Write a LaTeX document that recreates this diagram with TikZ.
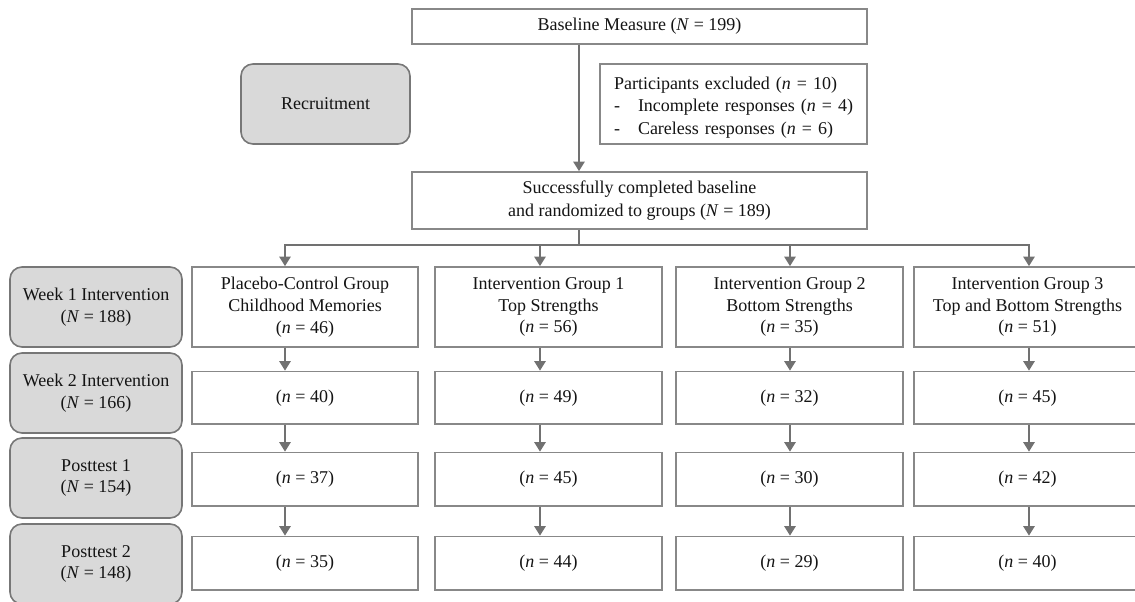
\documentclass[tikz,border=0pt]{standalone}
\usepackage{fontspec}
\setmainfont{Liberation Serif}
\usetikzlibrary{arrows.meta}
\definecolor{linegray}{HTML}{717171}
\definecolor{boxline}{HTML}{888888}
\definecolor{phasefill}{HTML}{D9D9D9}
\definecolor{phaseline}{HTML}{777777}
\definecolor{txt}{HTML}{141414}
\begin{document}
\begin{tikzpicture}[x=1pt,y=-1pt,
  every node/.style={font=\fontsize{18}{21.7}\selectfont, text=txt, inner sep=0pt},
  box/.style={draw=boxline, line width=1.6pt, fill=white, align=center},
  colbox/.style={box, minimum width=227pt},
  phase/.style={draw=phaseline, line width=1.6pt, fill=phasefill, rounded corners=12pt, align=center, minimum width=172pt, minimum height=80pt},
  conn/.style={draw=linegray, line width=2.6pt},
  arr/.style={conn, -{Triangle[width=11pt,length=9.5pt]}},
]
\useasboundingbox (0,0) rectangle (1135,602);

% top part
\node[box, minimum width=455pt, minimum height=35pt] (base) at (639.5,26.5) {Baseline Measure (\textit{N} = 199)};
\node[phase, minimum width=169pt] (recr) at (325.5,104) {Recruitment};
\node[box, minimum width=267pt, minimum height=80pt, text width=255pt, align=left,
      font=\fontsize{18}{22.5}\selectfont] (excl) at (733.5,104)
  {\rule{0pt}{19pt}\hspace*{8pt}Participants excluded (\textit{n} = 10)\\
   \hspace*{8pt}\makebox[24pt][l]{-}Incomplete responses (\textit{n} = 4)\\
   \hspace*{8pt}\makebox[24pt][l]{-}Careless responses (\textit{n} = 6)};
\node[box, minimum width=455pt, minimum height=57pt, font=\fontsize{18}{22.5}\selectfont] (succ) at (639.5,200.5)
  {Successfully completed baseline\\and randomized to groups (\textit{N} = 189)};

% phase boxes
\node[phase] (w1) at (96,307) {Week 1 Intervention\\(\textit{N} = 188)};
\node[phase] (w2) at (96,393) {Week 2 Intervention\\(\textit{N} = 166)};
\node[phase] (pt1) at (96,478) {Posttest 1\\(\textit{N} = 154)};
\node[phase] (pt2) at (96,564) {Posttest 2\\(\textit{N} = 148)};

% column 1
\node[colbox, minimum width=226pt, minimum height=80pt] (g11) at (305,307) {Placebo-Control Group\\Childhood Memories\\(\textit{n} = 46)};
\node[colbox, minimum width=226pt, minimum height=52.5pt] (g12) at (305,397.75) {(\textit{n} = 40)};
\node[colbox, minimum width=226pt, minimum height=53.5pt] (g13) at (305,479.25) {(\textit{n} = 37)};
\node[colbox, minimum width=226pt, minimum height=53.5pt] (g14) at (305,563.25) {(\textit{n} = 35)};
% column 2
\node[colbox, minimum height=80pt] (g21) at (548.5,307) {Intervention Group 1\\Top Strengths\\(\textit{n} = 56)};
\node[colbox, minimum height=52.5pt] (g22) at (548.5,397.75) {(\textit{n} = 49)};
\node[colbox, minimum height=53.5pt] (g23) at (548.5,479.25) {(\textit{n} = 45)};
\node[colbox, minimum height=53.5pt] (g24) at (548.5,563.25) {(\textit{n} = 44)};
% column 3
\node[colbox, minimum height=80pt] (g31) at (789.5,307) {Intervention Group 2\\Bottom Strengths\\(\textit{n} = 35)};
\node[colbox, minimum height=52.5pt] (g32) at (789.5,397.75) {(\textit{n} = 32)};
\node[colbox, minimum height=53.5pt] (g33) at (789.5,479.25) {(\textit{n} = 30)};
\node[colbox, minimum height=53.5pt] (g34) at (789.5,563.25) {(\textit{n} = 29)};
% column 4
\node[colbox, minimum height=80pt] (g41) at (1027.5,307) {Intervention Group 3\\Top and Bottom Strengths\\(\textit{n} = 51)};
\node[colbox, minimum height=52.5pt] (g42) at (1027.5,397.75) {(\textit{n} = 45)};
\node[colbox, minimum height=53.5pt] (g43) at (1027.5,479.25) {(\textit{n} = 42)};
\node[colbox, minimum height=53.5pt] (g44) at (1027.5,563.25) {(\textit{n} = 40)};

% connector positions
\coordinate (spine) at (579,0);
\coordinate (split) at (579,245);
\coordinate (a1) at (285,245);
\coordinate (a2) at (540,245);
\coordinate (a3) at (790,245);
\coordinate (a4) at (1029,245);

\draw[arr] (base.south -| spine) -- (succ.north -| spine);
\draw[conn] (succ.south -| spine) -- (split);
\draw[arr] (split) -| (g11.north -| a1);
\draw[arr] (split) -| (g21.north -| a2);
\draw[arr] (split) -| (g31.north -| a3);
\draw[arr] (split) -| (g41.north -| a4);

\foreach \c/\x in {1/a1,2/a2,3/a3,4/a4}{
  \draw[arr] (g\c1.south -| \x) -- (g\c2.north -| \x);
  \draw[arr] (g\c2.south -| \x) -- (g\c3.north -| \x);
  \draw[arr] (g\c3.south -| \x) -- (g\c4.north -| \x);
}
\end{tikzpicture}
\end{document}
